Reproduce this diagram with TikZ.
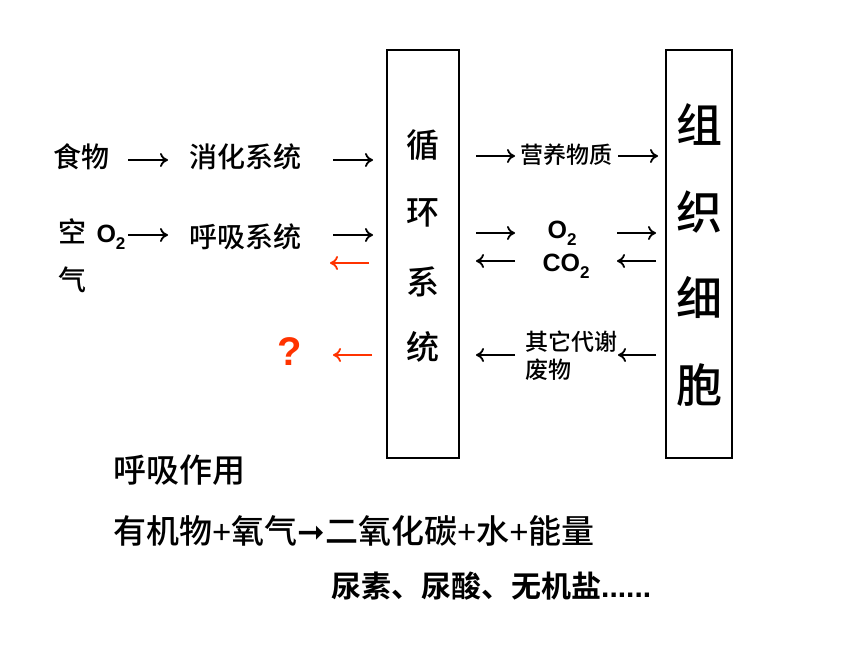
\documentclass[tikz,border=0pt]{standalone}
\usepackage{fontspec}
\setmainfont{Liberation Sans}
\newfontfamily\cjk{Noto Sans CJK SC}[UprightFont={* Medium},BoldFont={* Bold}]
\newfontfamily\dej{DejaVu Sans}
\usetikzlibrary{arrows.meta}
\definecolor{qred}{RGB}{255,51,0}
\newcommand{\subtwo}{\raisebox{-0.28em}{\fontsize{17}{17}\selectfont 2}}
\tikzset{
  arr/.style={line width=1.8pt,-{To[length=8pt,width=14pt]}},
  redarr/.style={arr,draw=qred},
  lbl/.style={inner sep=0,font=\cjk\fontsize{28}{30}\selectfont},
  small/.style={inner sep=0,font=\cjk\fontsize{23}{28}\selectfont},
  chem/.style={inner sep=0,font=\bfseries\fontsize{25}{27}\selectfont},
  boxnode/.style={draw,line width=2.5pt,inner sep=0},
  boxchar/.style={inner sep=0,font=\cjk\fontsize{33}{33}\selectfont},
  cellchar/.style={inner sep=0,font=\cjk\fontsize{46}{46}\selectfont},
  bottom/.style={inner sep=0,anchor=west,font=\cjk\fontsize{33}{35}\selectfont},
}
\begin{document}
\begin{tikzpicture}[x=1pt,y=-1pt]
\useasboundingbox[fill=white] (0,0) rectangle (860,645);
% boxes
\node[boxnode,minimum width=72pt,minimum height=408pt] (circ) at (423,254) {};
\node[boxnode,minimum width=66pt,minimum height=408pt] (cell) at (699,254) {};
\node[boxchar] (c1) at (423,145) {循};
\node[boxchar] (c2) at (423,213) {环};
\node[boxchar] (c3) at (423,282) {系};
\node[boxchar] (c4) at (423,347) {统};
\node[cellchar] (t1) at (699,125) {组};
\node[cellchar] (t2) at (699,212) {织};
\node[cellchar] (t3) at (699,298) {细};
\node[cellchar] (t4) at (699,385) {胞};
% left side
\node[lbl] (food) at (81,157) {食物};
\node[lbl] (dig) at (245,157) {消化系统};
\node[lbl] (kong) at (72,231) {空};
\node[lbl] (qi) at (72,280) {气};
\node[chem] (o2l) at (111,237) {O\subtwo};
\node[lbl] (resp) at (245,237) {呼吸系统};
\node[inner sep=0,text=qred,font=\bfseries\fontsize{40}{40}\selectfont] (q) at (290,352) {?};
\coordinate (a1s) at (128,160); \coordinate (a1e) at (168,160);
\coordinate (a2s) at (333,160); \coordinate (a2e) at (373,160);
\coordinate (a3s) at (128,235); \coordinate (a3e) at (168,235);
\coordinate (a4s) at (333,235); \coordinate (a4e) at (373,235);
\coordinate (a5s) at (369,263); \coordinate (a5e) at (330,263);
\coordinate (a6s) at (372,355); \coordinate (a6e) at (333,355);
\draw[arr] (a1s) -- (a1e);
\draw[arr] (a2s) -- (a2e);
\draw[arr] (a3s) -- (a3e);
\draw[arr] (a4s) -- (a4e);
\draw[redarr] (a5s) -- (a5e);
\draw[redarr] (a6s) -- (a6e);
% middle
\node[small] (nut) at (566,155) {营养物质};
\node[chem] (o2m) at (562,233) {O\subtwo};
\node[chem] (co2) at (566,266) {CO\subtwo};
\node[small,anchor=west,align=left] (waste) at (525,356) {其它代谢\\废物};
\coordinate (b1s) at (476,156); \coordinate (b1e) at (515,156);
\coordinate (b2s) at (618,156); \coordinate (b2e) at (658,156);
\coordinate (b3s) at (476,233); \coordinate (b3e) at (515,233);
\coordinate (b4s) at (617,233); \coordinate (b4e) at (656,233);
\coordinate (b5s) at (515,261); \coordinate (b5e) at (476,261);
\coordinate (b6s) at (656,261); \coordinate (b6e) at (617,261);
\coordinate (b7s) at (515,355); \coordinate (b7e) at (476,355);
\coordinate (b8s) at (656,355); \coordinate (b8e) at (618,355);
\foreach \i in {1,...,8} {\draw[arr] (b\i s) -- (b\i e);}
% bottom
\node[bottom] (resptitle) at (113,470) {呼吸作用};
\node[bottom] (eq) at (113,531) {有机物{\rmfamily +}氧气{\dej\bfseries ➞}二氧化碳{\rmfamily +}水{\rmfamily +}能量};
\node[bottom,font=\cjk\bfseries\fontsize{30}{32}\selectfont] (salts) at (331,586) {尿素、尿酸、无机盐{\rmfamily\bfseries ......}};
\end{tikzpicture}
\end{document}
